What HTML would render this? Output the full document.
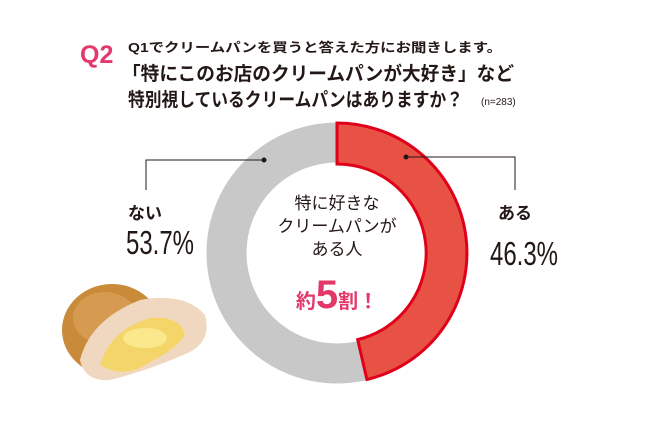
<!DOCTYPE html>
<html><head><meta charset="utf-8"><style>
html,body{margin:0;padding:0;background:#fff;}
svg{display:block}
text{font-family:"Liberation Sans","Noto Sans CJK JP",sans-serif;}
</style></head><body>
<svg width="648" height="432" viewBox="0 0 648 432" xmlns="http://www.w3.org/2000/svg">
<text x="80" y="63" font-size="25" fill="#e5386a" font-weight="bold">Q2</text>
<text x="128" y="52" font-size="13" fill="#231815" font-weight="bold" textLength="374" lengthAdjust="spacingAndGlyphs">Q1でクリームパンを買うと答えた方にお聞きします。</text>
<text x="122" y="80" font-size="19" fill="#231815" font-weight="bold" textLength="392" lengthAdjust="spacingAndGlyphs">「特にこのお店のクリームパンが大好き」など</text>
<text x="128" y="106" font-size="19" fill="#231815" font-weight="bold" textLength="335" lengthAdjust="spacingAndGlyphs">特別視しているクリームパンはありますか？</text>
<text x="481" y="105" font-size="10" fill="#231815">(n=283)</text>
<!-- donut -->
<circle cx="337" cy="253" r="110.5" fill="none" stroke="#c8c8c8" stroke-width="40"/>
<path d="M337,123 A130,130 0 0 1 366.9,379.5 L357.7,339.6 A89,89 0 0 0 337,164 Z" fill="#e85245" stroke="#e0001a" stroke-width="3" stroke-linejoin="miter"/>
<!-- leaders -->
<polyline points="264,160 146,160 146,190" fill="none" stroke="#231815" stroke-width="1"/>
<circle cx="264" cy="160" r="2.5" fill="#231815"/>
<polyline points="406,157 515,157 515,190" fill="none" stroke="#231815" stroke-width="1"/>
<circle cx="406" cy="157" r="2.5" fill="#231815"/>
<text x="128" y="219" font-size="17" fill="#231815" font-weight="bold">ない</text>
<text x="126" y="254" font-size="33" fill="#231815" textLength="68" lengthAdjust="spacingAndGlyphs">53.7%</text>
<text x="498" y="219" font-size="17" fill="#231815" font-weight="bold">ある</text>
<text x="490" y="265" font-size="33" fill="#231815" textLength="68" lengthAdjust="spacingAndGlyphs">46.3%</text>
<!-- center -->
<text x="337" y="209" font-size="17" fill="#231815" text-anchor="middle">特に好きな</text>
<text x="337" y="232" font-size="17" fill="#231815" text-anchor="middle">クリームパンが</text>
<text x="337" y="255" font-size="17" fill="#231815" text-anchor="middle">ある人</text>
<text x="337" y="308" fill="#e5386a" text-anchor="middle" font-weight="bold"><tspan font-size="20">約</tspan><tspan font-size="40">5</tspan><tspan font-size="20">割！</tspan></text>
<!-- bread -->
<ellipse cx="112" cy="330" rx="50" ry="46" fill="#c98a3a"/>
<ellipse cx="105" cy="318" rx="32" ry="26" fill="#dca25a" opacity="0.7"/>
<path d="M80,360 Q90,320 140,300 Q185,292 205,315 Q212,340 190,352 Q150,370 110,380 Q85,382 80,360Z" fill="#f0d8c0"/>
<path d="M100,365 Q110,330 150,318 Q180,315 185,335 Q175,350 150,362 Q125,380 100,365Z" fill="#f4d56a"/>
<ellipse cx="145" cy="338" rx="22" ry="10" fill="#fbe88c"/>
</svg>
</body></html>
